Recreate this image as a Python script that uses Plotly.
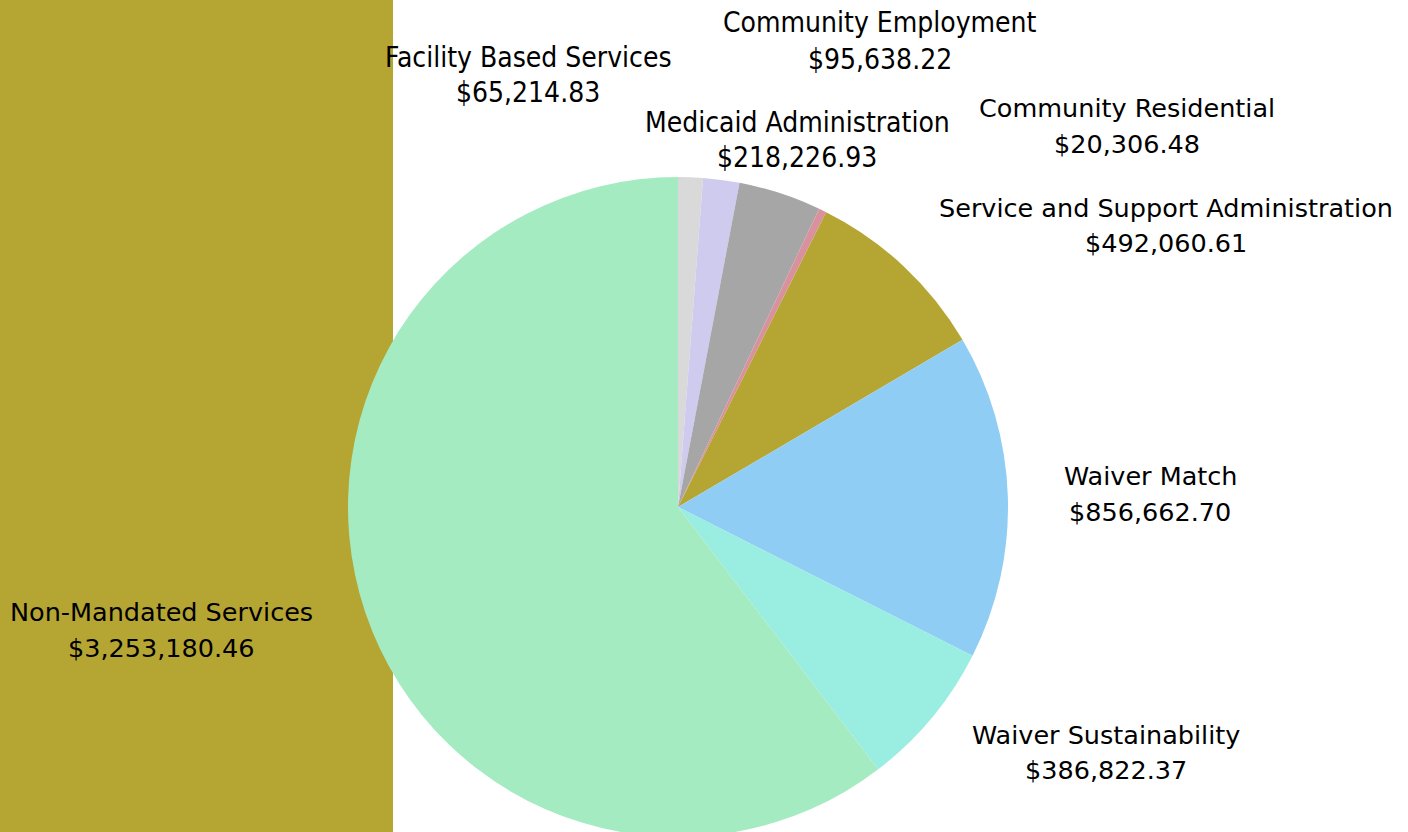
import plotly.graph_objects as go

labels = ["Facility Based Services", "Community Employment", "Medicaid Administration",
          "Community Residential", "Service and Support Administration", "Waiver Match",
          "Waiver Sustainability", "Non-Mandated Services"]
values = [65214.83, 95638.22, 218226.93, 20306.48, 492060.61, 856662.70, 386822.37, 3253180.46]
colors = ["#D9D9D9", "#CECBEF", "#A6A6A6", "#D9919E", "#B5A533", "#8FCDF4", "#99EDE1", "#A5EBC1"]

W, H = 1408, 842
label_pos = [(528, 57, 92), (880, 23, 59), (797, 123, 158), (1127, 108, 144),
             (1166, 208, 243), (1150, 476, 512), (1106, 735, 770), (161, 612, 648)]
condensed = [True, True, True, False, False, False, False, False]

cx, cy, r = 678, 507, 330

fig = go.Figure(go.Pie(
    labels=labels, values=values, sort=False, direction="clockwise", rotation=0,
    marker=dict(colors=colors, line=dict(width=0)), textinfo="none", hoverinfo="label+value",
    domain=dict(x=[(cx - r) / W, (cx + r) / W], y=[(H - cy - r) / H, (H - cy + r) / H]),
    showlegend=False,
))

ann = []
for lab, val, (x, y1, y2), cond in zip(labels, values, label_pos, condensed):
    fam = "DejaVu Sans Condensed" if cond else "DejaVu Sans"
    sz = 28 if cond else 25.5
    for txt, y in ((lab, y1), (f"${val:,.2f}", y2)):
        ann.append(dict(text=txt, x=x / W, y=1 - y / H, xref="paper", yref="paper",
                        xanchor="center", yanchor="middle", showarrow=False,
                        font=dict(family=fam, size=sz, color="#000000")))

fig.update_layout(
    width=W, height=H, margin=dict(l=0, r=0, t=0, b=0),
    paper_bgcolor="white", plot_bgcolor="white",
    shapes=[dict(type="rect", xref="paper", yref="paper", x0=0, x1=393 / W, y0=0, y1=1,
                 fillcolor="#B5A533", line=dict(width=0), layer="below")],
    annotations=ann,
)

fig.write_html("out.html", config={"displayModeBar": False},
               post_script="document.body.style.margin='0';document.body.style.overflow='hidden';document.documentElement.style.overflow='hidden';")
